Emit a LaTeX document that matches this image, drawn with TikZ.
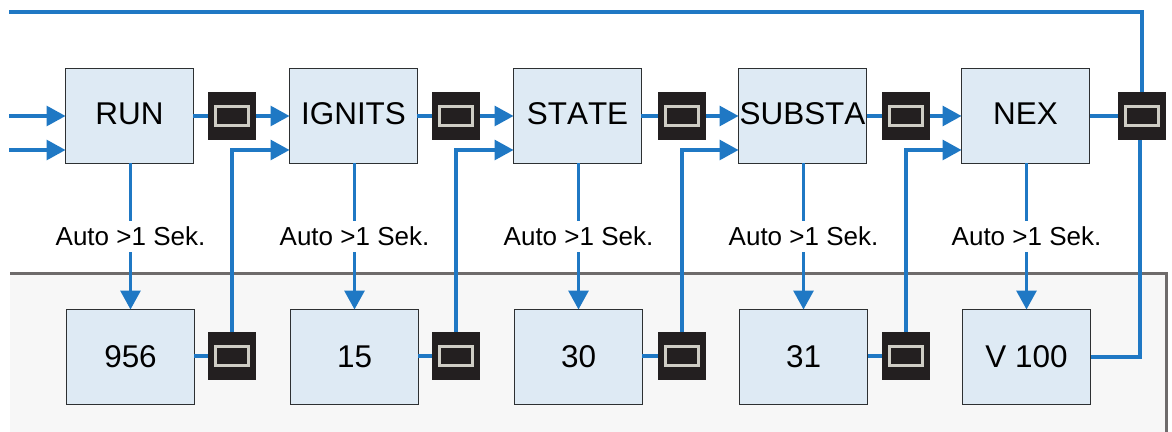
\documentclass[tikz,border=0pt]{standalone}
\usepackage{fontspec}
\setmainfont[Kerning=Off]{Liberation Sans}
\usetikzlibrary{arrows.meta}
\definecolor{wireblue}{RGB}{31,120,196}
\definecolor{boxblue}{RGB}{222,234,244}
\definecolor{boxline}{RGB}{45,48,50}
\definecolor{sensorblack}{RGB}{35,31,32}
\definecolor{sensorlight}{RGB}{207,205,197}
\definecolor{panelgray}{RGB}{247,247,247}
\definecolor{panelline}{RGB}{110,107,107}
\tikzset{
    mainbox/.style={draw=boxline, fill=boxblue, line width=1pt, outer sep=0pt, inner sep=0pt,
        minimum width=2.56cm, minimum height=1.9cm, align=center, font=\fontsize{17.9}{20}\selectfont},
    topbox/.style={mainbox, text depth=0.1cm},
    sensor/.style={fill=sensorblack, outer sep=0pt, inner sep=0pt, minimum size=0.96cm,
        path picture={\draw[sensorlight, line width=0.06cm]
            ([xshift=-0.33cm, yshift=-0.185cm]path picture bounding box.center) rectangle
            ([xshift=0.33cm, yshift=0.185cm]path picture bounding box.center);}},
    wire/.style={wireblue, line width=0.062cm},
    flow/.style={wire, -{Triangle[length=0.38cm, width=0.4cm]}},
    autolabel/.style={fill=white, text=black, inner xsep=0pt, inner ysep=0pt, minimum height=0.64cm,
        font=\fontsize{14.8}{18}\selectfont}
}

\begin{document}
\begin{tikzpicture}[x=0.02cm, y=-0.02cm]
    \useasboundingbox (0,0) rectangle (1172,432);

    % lower panel
    \fill[panelgray] (10,273) rectangle (1166,432);
    \draw[panelline, line width=0.06cm] (10,273) -- (1166,273) -- (1166,432);

    % upper row
    \node[topbox] (run) at (129.5,116) {RUN};
    \node[topbox] (ignits) at (353.5,116) {IGNITS};
    \node[topbox] (state) at (577.5,116) {STATE};
    \node[topbox] (substa) at (802.5,116) {SUBSTA};
    \node[topbox] (nex) at (1025.5,116) {NEX};

    \node[sensor] (srun) at (232,116) {};
    \node[sensor] (signits) at (456,116) {};
    \node[sensor] (sstate) at (682,116) {};
    \node[sensor] (ssubsta) at (906,116) {};
    \node[sensor] (snex) at (1142,116) {};

    % lower row
    \node[mainbox] (v956) at (130.5,357) {956};
    \node[mainbox] (v15) at (354.5,357) {15};
    \node[mainbox] (v30) at (578.5,357) {30};
    \node[mainbox] (v31) at (803.5,357) {31};
    \node[mainbox] (v100) at (1026.5,357) {V 100};

    \node[sensor] (s956) at (232,356) {};
    \node[sensor] (s15) at (456,356) {};
    \node[sensor] (s30) at (682,356) {};
    \node[sensor] (s31) at (906,356) {};

    % free ends on the left
    \coordinate (inone) at (9,116);
    \coordinate (intwo) at (9,150);
    \coordinate (loopstart) at (9,12);

    \draw[flow] (inone) -- (run.west);
    \draw[flow] (intwo) -- (run.west |- intwo);

    % along the upper row
    \draw[wire] (run.east) -- (srun.west);
    \draw[flow] (srun.east) -- (ignits.west);
    \draw[wire] (ignits.east) -- (signits.west);
    \draw[flow] (signits.east) -- (state.west);
    \draw[wire] (state.east) -- (sstate.west);
    \draw[flow] (sstate.east) -- (substa.west);
    \draw[wire] (substa.east) -- (ssubsta.west);
    \draw[flow] (ssubsta.east) -- (nex.west);
    \draw[wire] (nex.east) -- (snex.west);

    % along the lower row
    \draw[wire] (v956.east |- s956.west) -- (s956.west);
    \draw[wire] (v15.east |- s15.west) -- (s15.west);
    \draw[wire] (v30.east |- s30.west) -- (s30.west);
    \draw[wire] (v31.east |- s31.west) -- (s31.west);

    % lower sensors back up
    \draw[flow] (s956.north) |- ([yshift=-0.68cm]ignits.west);
    \draw[flow] (s15.north) |- ([yshift=-0.68cm]state.west);
    \draw[flow] (s30.north) |- ([yshift=-0.68cm]substa.west);
    \draw[flow] (s31.north) |- ([yshift=-0.68cm]nex.west);

    % downwards
    \draw[flow] (v956.north |- run.south) -- node[autolabel] (auto1) {Auto >1 Sek.} (v956.north);
    \draw[flow] (v15.north |- ignits.south) -- node[autolabel] (auto2) {Auto >1 Sek.} (v15.north);
    \draw[flow] (v30.north |- state.south) -- node[autolabel] (auto3) {Auto >1 Sek.} (v30.north);
    \draw[flow] (v31.north |- substa.south) -- node[autolabel] (auto4) {Auto >1 Sek.} (v31.north);
    \draw[flow] (v100.north |- nex.south) -- node[autolabel] (auto5) {Auto >1 Sek.} (v100.north);

    % loop on the right
    \draw[wire] (loopstart) -| (snex.north);
    \draw[wire] (v100.east) -| ([xshift=-0.04cm]snex.south);
\end{tikzpicture}
\end{document}
